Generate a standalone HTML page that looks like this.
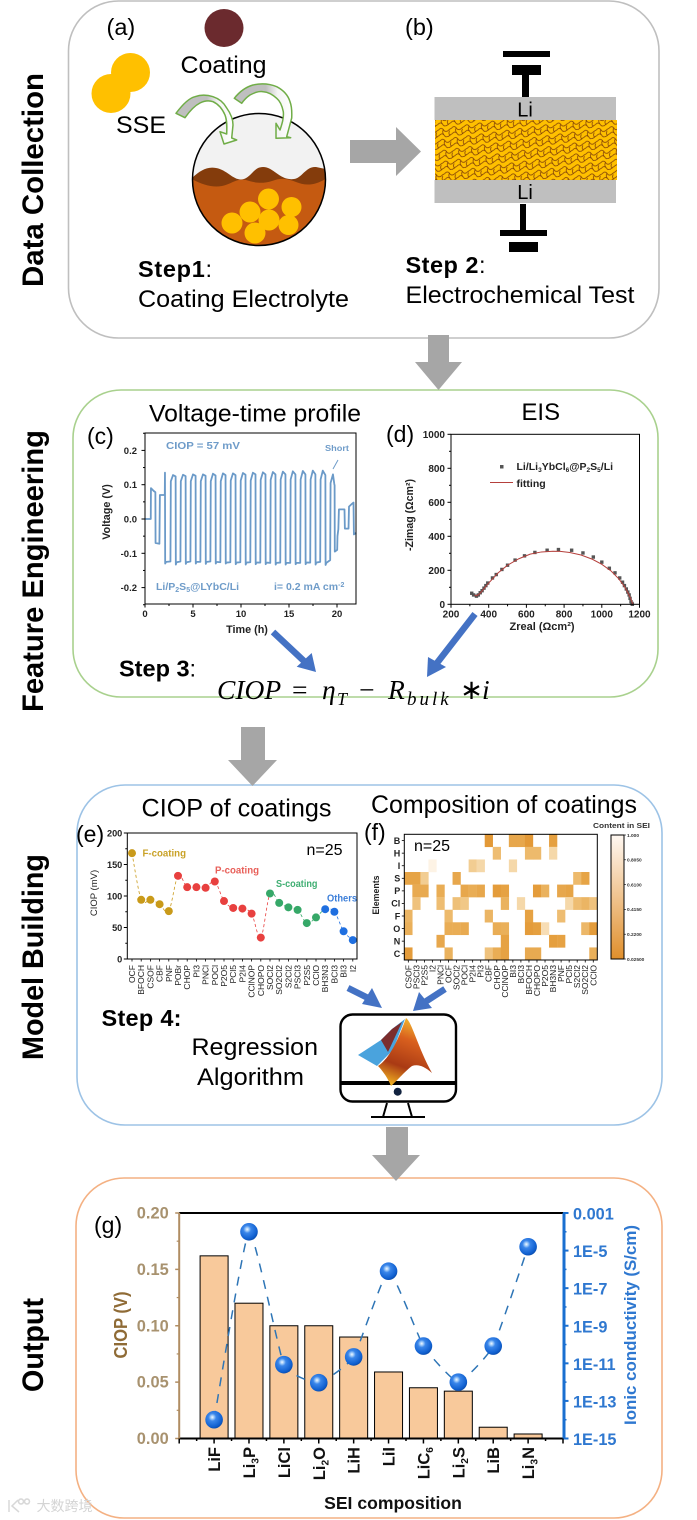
<!DOCTYPE html>
<html lang="en">
<head>
<meta charset="utf-8">
<title>SEI coating workflow</title>
<style>
html,body{margin:0;padding:0;background:#fff;}
svg{display:block;font-family:"Liberation Sans",Arial,"Noto Sans CJK SC",sans-serif;}
</style>
</head>
<body>
<svg id="figure" xmlns="http://www.w3.org/2000/svg" width="697" height="1520" viewBox="0 0 697 1520">
<defs>
<pattern id="scales" width="13" height="11" patternUnits="userSpaceOnUse" patternTransform="rotate(-8)">
<rect width="13" height="11" fill="#ffc000"/>
<path d="M0,3 q3,-3 5,0 q1,3 4,2 q3,-2 4,-2 M0,8.5 q3,-3 5,0 q1,3 4,2 q3,-2 4,-2 M5,3 q-2,3 0,5.5 M11,5 q-2,3 0,5" fill="none" stroke="#7b3a08" stroke-width="0.7"/>
</pattern>
<radialGradient id="sphere" cx="0.4" cy="0.36" r="0.68">
<stop offset="0" stop-color="#f2f8ff"/><stop offset="0.13" stop-color="#a8d0fa"/><stop offset="0.32" stop-color="#3a86ea"/><stop offset="0.8" stop-color="#1060d0"/><stop offset="1" stop-color="#0a4aa8"/>
</radialGradient>
<linearGradient id="colorbar-fill" x1="0" y1="0" x2="0" y2="1">
<stop offset="0" stop-color="#fff8f2"/><stop offset="1" stop-color="#e08f2c"/>
</linearGradient>
<linearGradient id="peak-fill" x1="0.6" y1="0" x2="0.3" y2="1">
<stop offset="0" stop-color="#f3b92f"/><stop offset="0.3" stop-color="#d9601e"/><stop offset="0.7" stop-color="#a93a14"/><stop offset="1" stop-color="#f0b020"/>
</linearGradient>
<linearGradient id="arrow-fill-left" gradientUnits="userSpaceOnUse" x1="176" y1="0" x2="232" y2="0">
<stop offset="0.55" stop-color="#bfbfbf"/><stop offset="0.75" stop-color="#f4f4f4"/><stop offset="1" stop-color="#ffffff"/>
</linearGradient>
<linearGradient id="arrow-fill-right" gradientUnits="userSpaceOnUse" x1="234" y1="0" x2="292" y2="0">
<stop offset="0.55" stop-color="#bfbfbf"/><stop offset="0.75" stop-color="#f4f4f4"/><stop offset="1" stop-color="#ffffff"/>
</linearGradient>
<clipPath id="ball-clip"><ellipse cx="259" cy="179.5" rx="66.5" ry="66"/></clipPath>
</defs>

<!-- section frames -->
<rect x="68.5" y="1" width="590.5" height="337" rx="50" fill="none" stroke="#bfbfbf" stroke-width="1.6"/>
<rect x="73" y="390" width="585" height="307" rx="48" fill="none" stroke="#a9d18e" stroke-width="1.6"/>
<rect x="77" y="785" width="585" height="340" rx="48" fill="none" stroke="#9dc3e6" stroke-width="1.6"/>
<rect x="76" y="1178" width="586" height="340" rx="48" fill="none" stroke="#f4b183" stroke-width="1.6"/>

<!-- section titles -->
<text transform="rotate(-90 43 180)" x="43" y="180" text-anchor="middle" font-weight="bold" font-size="29.500" textLength="214" lengthAdjust="spacingAndGlyphs">Data Collection</text>
<text transform="rotate(-90 43 571)" x="43" y="571" text-anchor="middle" font-weight="bold" font-size="29.500" textLength="282" lengthAdjust="spacingAndGlyphs">Feature Engineering</text>
<text transform="rotate(-90 43 957)" x="43" y="957" text-anchor="middle" font-weight="bold" font-size="29.500" textLength="206" lengthAdjust="spacingAndGlyphs">Model Building</text>
<text transform="rotate(-90 43 1345)" x="43" y="1345" text-anchor="middle" font-weight="bold" font-size="29.500" textLength="94" lengthAdjust="spacingAndGlyphs">Output</text>

<!-- grey flow arrows -->
<path d="M428,335H449V362H462L438.500,390L415,362H428Z" fill="#a6a6a6"/>
<path d="M241,727H265V760H277L252.500,786L228,760H241Z" fill="#a6a6a6"/>
<path d="M386,1127H408V1155H420L396,1181L372,1155H386Z" fill="#a6a6a6"/>
<path d="M350,140H396V127L421,151.500L396,176V163H350Z" fill="#a6a6a6"/>

<!-- panel a -->
<text x="106.500" y="35" font-size="23.500">(a)</text>
<ellipse cx="224" cy="28" rx="19.500" ry="19" fill="#6b2a2e"/>
<text x="180.500" y="73" font-size="24.500" textLength="86" lengthAdjust="spacingAndGlyphs">Coating</text>
<circle cx="130.500" cy="72.500" r="19.500" fill="#ffc000"/>
<circle cx="111" cy="93.500" r="19.500" fill="#ffc000"/>
<text x="116" y="133" font-size="24.500" textLength="50" lengthAdjust="spacingAndGlyphs">SSE</text>
<g>
<ellipse cx="259" cy="179.500" rx="66.500" ry="66" fill="#f2f2f2"/>
<g clip-path="url(#ball-clip)">
<path d="M190,180 C198,172 206,166 216,168 C228,170 234,182 244,179 C252,176 254,167 263,167 C274,167 280,181 294,179 C302,178 306,166 316,167 L330,170 V250 H190Z" fill="#843c0c"/>
<path d="M190,178 C200,184 212,188 222,186 C232,184 236,178 246,180 C256,183 262,184 272,181 C280,178 286,178 296,182 C306,186 316,186 330,176 V250 H190Z" fill="#c55a11"/>
<circle cx="232" cy="223" r="10.500" fill="#ffc000"/><circle cx="250" cy="212" r="10.500" fill="#ffc000"/><circle cx="268.500" cy="199" r="10.500" fill="#ffc000"/><circle cx="291.500" cy="207" r="10" fill="#ffc000"/><circle cx="269" cy="220" r="10.500" fill="#ffc000"/><circle cx="288.500" cy="225" r="10" fill="#ffc000"/><circle cx="255" cy="233" r="10.500" fill="#ffc000"/>
</g>
<ellipse cx="259" cy="179.500" rx="66.500" ry="66" fill="none" stroke="#000" stroke-width="1.500"/>
</g>
<path d="M176,113.300 C183,104 189,98 195,96.700 C202,94 208,95 213,96.700 C220,99 224,103 226.700,108 C231,114 233,120 233,125 L231.700,138 L236.700,140 L224,144 L220,131.700 L226.700,134 C227,126 227,120 225,115 C222,108 218,104 213,101.700 C208,100 204,101 200,103 C194,106 189,112 185,117.700Z" fill="url(#arrow-fill-left)" stroke="#70ad47" stroke-width="1.500" stroke-linejoin="round"/>
<path d="M234.300,98.300 C240,91 246,87 253,85 C262,83 270,84 276.700,86.700 C283,90 288,95 290,101.700 C292,107 292,112 291.700,118 L286.700,136.700 L290.700,137.700 L276,138.300 L276,123.300 L280,130 C282,124 284,118 283.300,111.700 C282,105 280,101 276.700,98.300 C272,94 268,92 263.300,91.700 C258,91 254,93 250,95 C247,97 244,100 241.700,103.300Z" fill="url(#arrow-fill-right)" stroke="#70ad47" stroke-width="1.500" stroke-linejoin="round"/>
<text x="138" y="277" font-size="23.500" textLength="74" lengthAdjust="spacing"><tspan font-weight="bold">Step1</tspan>:</text>
<text x="138" y="307" font-size="24.500" textLength="211" lengthAdjust="spacingAndGlyphs">Coating Electrolyte</text>

<!-- panel b -->
<text x="405" y="35" font-size="23.500">(b)</text>
<g fill="#000">
<rect x="503" y="51" width="47" height="6"/><rect x="512" y="65" width="29" height="10"/><rect x="522" y="75" width="7" height="22"/>
</g>
<rect x="434.500" y="97" width="181.500" height="23" fill="#bfbfbf"/>
<rect x="435" y="120" width="182" height="60" fill="url(#scales)"/>
<rect x="434.500" y="180" width="181.500" height="23" fill="#bfbfbf"/>
<text x="525" y="116.500" font-size="20" text-anchor="middle">Li</text>
<text x="525" y="199" font-size="20" text-anchor="middle">Li</text>
<g fill="#000">
<rect x="520" y="204" width="6" height="26"/><rect x="500" y="230" width="47" height="6"/><rect x="509" y="242" width="29" height="10"/>
</g>
<text x="405.500" y="273" font-size="23.500" textLength="80" lengthAdjust="spacing"><tspan font-weight="bold">Step 2</tspan>:</text>
<text x="405.500" y="303" font-size="24.500" textLength="229" lengthAdjust="spacingAndGlyphs">Electrochemical Test</text>

<!-- panel titles -->
<text x="149" y="421.500" font-size="24.500" textLength="212" lengthAdjust="spacingAndGlyphs">Voltage-time profile</text>
<text x="521.500" y="420" font-size="24" textLength="38.500" lengthAdjust="spacingAndGlyphs">EIS</text>
<text x="87" y="444" font-size="23">(c)</text>
<text x="386" y="442" font-size="23">(d)</text>
<text x="141.500" y="816.500" font-size="25" textLength="190" lengthAdjust="spacingAndGlyphs">CIOP of coatings</text>
<text x="371" y="813" font-size="25" textLength="266" lengthAdjust="spacingAndGlyphs">Composition of coatings</text>
<text x="76" y="842" font-size="23">(e)</text>
<text x="364" y="840" font-size="23">(f)</text>
<text x="94" y="1233" font-size="23">(g)</text>

<!-- chart groups -->
<g id="chart-voltage"></g>
<g id="chart-eis"></g>
<g id="chart-ciop"></g>
<g id="chart-heat"></g>
<g id="chart-sei"></g>

<!-- voltage annotations -->
<g font-weight="bold" fill="#6f9cc9">
<text x="166" y="449" font-size="10.500" textLength="74" lengthAdjust="spacingAndGlyphs">CIOP = 57 mV</text>
<text x="325" y="451" font-size="8.500" textLength="24" lengthAdjust="spacingAndGlyphs">Short</text>
<text x="156" y="590" font-size="10.500">Li/P<tspan font-size="7" dy="2">2</tspan><tspan dy="-2">S</tspan><tspan font-size="7" dy="2">5</tspan><tspan dy="-2">@LYbC/Li</tspan></text>
<text x="274" y="590" font-size="10.500">i= 0.2 mA cm<tspan font-size="7" dy="-3">-2</tspan></text>
</g>
<line x1="338" y1="460" x2="333" y2="469" stroke="#6f9cc9" stroke-width="1"/>

<!-- EIS legend -->
<rect x="500" y="465" width="3.500" height="3.500" fill="#555"/>
<text x="516.500" y="470" font-size="10.500" font-weight="bold" fill="#222">Li/Li<tspan font-size="6.500" dy="2">3</tspan><tspan dy="-2">YbCl</tspan><tspan font-size="6.500" dy="2">6</tspan><tspan dy="-2">@P</tspan><tspan font-size="6.500" dy="2">2</tspan><tspan dy="-2">S</tspan><tspan font-size="6.500" dy="2">5</tspan><tspan dy="-2">/Li</tspan></text>
<line x1="490" y1="482.500" x2="513" y2="482.500" stroke="#b5403c" stroke-width="1"/>
<text x="516.500" y="487" font-size="10.500" font-weight="bold" fill="#222">fitting</text>

<!-- ciop annotations -->
<g font-size="10.500" font-weight="bold">
<text x="142.500" y="856.500" fill="#c9a227" textLength="43.500" lengthAdjust="spacingAndGlyphs">F-coating</text>
<text x="215" y="873.500" fill="#e8605a" textLength="44" lengthAdjust="spacingAndGlyphs">P-coating</text>
<text x="276" y="887" fill="#3fae72" textLength="41.500" lengthAdjust="spacingAndGlyphs">S-coating</text>
<text x="327" y="901.500" fill="#3d7fd9" textLength="30" lengthAdjust="spacingAndGlyphs">Others</text>
</g>
<text x="306.500" y="855" font-size="16">n=25</text>
<text x="414" y="851" font-size="16">n=25</text>

<!-- step 3 -->
<text x="119" y="676.700" font-size="23.500"><tspan font-weight="bold">Step 3</tspan>:</text>
<text y="699" font-size="27.500" font-style="italic" style="font-family:'Liberation Serif',serif"><tspan x="217">CIOP</tspan><tspan x="292" font-style="normal">=</tspan><tspan x="322">η</tspan><tspan x="337" y="705" font-size="18">T</tspan><tspan x="359" y="699" font-style="normal">−</tspan><tspan x="388">R</tspan><tspan x="407" y="705" font-size="19" letter-spacing="3">bulk</tspan><tspan x="460" y="699" font-style="normal">∗</tspan><tspan x="482">i</tspan></text>

<!-- blue arrows -->
<g fill="none" stroke="#4472c4" stroke-width="6.500">
<line x1="273" y1="632" x2="305" y2="662"/>
<line x1="475" y1="614" x2="437" y2="663"/>
<line x1="348" y1="988" x2="372" y2="1000"/>
<line x1="445" y1="989" x2="425" y2="1002"/>
</g>
<path d="M316,672L296.700,666.700L311.700,653Z" fill="#4472c4"/>
<path d="M427,677L428,657L446,667Z" fill="#4472c4"/>
<path d="M382,1008L362,1004L372,988Z" fill="#4472c4"/>
<path d="M413,1011L419,992L432,1008Z" fill="#4472c4"/>

<!-- step 4 -->
<text x="101.500" y="1026" font-size="23.500" font-weight="bold" textLength="80" lengthAdjust="spacing">Step 4:</text>
<text x="191.500" y="1055" font-size="24" textLength="126.500" lengthAdjust="spacingAndGlyphs">Regression</text>
<text x="197" y="1085" font-size="24.500" textLength="107" lengthAdjust="spacingAndGlyphs">Algorithm</text>

<!-- monitor -->
<g>
<rect x="340.500" y="1014.500" width="115.500" height="87" rx="12" fill="#fff" stroke="#000" stroke-width="2.400"/>
<rect x="340" y="1081" width="116" height="4" fill="#000"/>
<circle cx="397.700" cy="1091.700" r="4" fill="#12233f"/>
<path d="M387,1103L383,1117M408,1103L412,1117" stroke="#000" stroke-width="2" fill="none"/>
<rect x="371" y="1116" width="54" height="2" fill="#000"/>
<path d="M358,1055L381,1040L392,1029L405,1019L393,1050L377,1066Z" fill="#4aa3dd"/>
<path d="M381,1040L392,1029L402,1022L388,1052Z" fill="#7b2d2d"/>
<path d="M406,1018C412,1022 418,1048 432,1073C424,1066 418,1064 412,1066C404,1072 396,1082 391,1086C388,1078 382,1070 378,1066C390,1058 398,1040 406,1018Z" fill="url(#peak-fill)"/>
</g>

<!-- watermark -->
<text x="36.500" y="1511" font-size="14" fill="#d4d4d4" style="font-family:'Liberation Sans','Noto Sans CJK SC',sans-serif">大数跨境</text>
<path d="M9,1500V1512M18,1500L12,1506L19,1512M21,1499a2.500,2.500 0 1,0 .01,0M27,1499a2.500,2.500 0 1,0 .01,0" fill="none" stroke="#d8d8d8" stroke-width="1.500"/>
</svg>

<script>
var svgNS = 'http://www.w3.org/2000/svg';

/* ---------- panel c data ---------- */
var voltageTimes = [0,0.6,0.62,0.9,1.08,1.1,1.5,1.55,1.95,2.06,2.08,2.1,2.2,2.65,
2.69,2.92,3.19,3.21,3.29,3.69, 3.73,3.96,4.23,4.25,4.33,4.73, 4.77,5.00,5.27,5.29,5.37,5.77,
5.81,6.04,6.31,6.33,6.41,6.81, 6.85,7.08,7.35,7.37,7.45,7.85, 7.89,8.12,8.39,8.41,8.49,8.89,
8.93,9.16,9.43,9.45,9.53,9.93, 9.97,10.20,10.47,10.49,10.57,10.97, 11.01,11.24,11.51,11.53,11.61,12.01,
12.05,12.28,12.55,12.57,12.65,13.05, 13.09,13.32,13.59,13.61,13.69,14.09, 14.13,14.36,14.63,14.65,14.73,15.13,
15.17,15.40,15.67,15.69,15.77,16.17, 16.21,16.44,16.71,16.73,16.81,17.21, 17.25,17.48,17.75,17.77,17.85,18.25,
18.29,18.52,18.79,18.81,18.89,19.29, 19.33,19.58,19.72,19.75,19.77,20.02,20.05,20.14,20.20,20.78,20.82,21.2,21.25,21.55,21.72,21.76,22];
var voltageValues = [0,0,0.09,0.082,0.078,-0.07,-0.072,0.07,0.07,0.07,0.135,-0.13,-0.125,-0.124,
0.11,0.128,0.124,-0.133,-0.126,-0.124, 0.11,0.129,0.125,-0.131,-0.126,-0.124, 0.11,0.13,0.126,-0.13,-0.125,-0.125,
0.11,0.13,0.126,-0.131,-0.125,-0.124, 0.11,0.132,0.127,-0.13,-0.125,-0.126, 0.11,0.133,0.128,-0.13,-0.127,-0.126,
0.112,0.133,0.128,-0.132,-0.127,-0.126, 0.112,0.134,0.129,-0.133,-0.127,-0.126, 0.112,0.135,0.13,-0.132,-0.127,-0.127,
0.114,0.136,0.13,-0.132,-0.127,-0.128, 0.114,0.137,0.13,-0.133,-0.128,-0.127, 0.115,0.138,0.13,-0.133,-0.128,-0.128,
0.115,0.139,0.13,-0.132,-0.128,-0.128, 0.115,0.14,0.13,-0.132,-0.127,-0.127, 0.115,0.141,0.13,-0.133,-0.127,-0.125,
0.115,0.141,0.128,-0.134,-0.128,-0.12, 0.105,0.13,0.102,0.098,-0.095,-0.09,-0.05,-0.03,0.028,0.028,-0.028,-0.028,0.036,0.044,0.048,-0.045,-0.04];
var voltageYTicks = [-0.2,-0.1,0,0.1,0.2];
var voltageYMinor = [-0.25,-0.15,-0.05,0.05,0.15,0.25];
var voltageYLabels = ['-0.2','-0.1','0.0','0.1','0.2'];
var voltageXTicks = [0,5,10,15,20];
var voltageXMinor = [2.5,7.5,12.5,17.5];

/* ---------- panel d data ---------- */
var eisReal = [310,320,335,345,355,365,375,385,395,420,440,470,500,540,590,645,710,770,840,900,955,1000,1040,1070,1095,1110,1120,1130,1138,1145,1150,1155,1160,1162];
var eisImag = [65,55,48,55,68,80,95,110,125,155,175,205,230,260,285,305,318,322,318,302,278,248,212,185,155,130,110,90,72,55,35,15,5,0];
var fitReal = [325,335,350,370,400,450,500,560,620,680,740,780,830,890,950,1000,1050,1090,1120,1140,1155,1165];
var fitImag = [55,50,60,85,125,185,230,268,295,308,312,311,305,290,265,235,195,150,105,65,30,0];
var eisYTicks = [0,200,400,600,800,1000];
var eisYMinor = [100,300,500,700,900];
var eisXTicks = [200,400,600,800,1000,1200];
var eisXMinor = [300,500,700,900,1100];

/* ---------- panel e data ---------- */
var coatingNames = ['OCF','BFOCH','CSOF','CBF','PNF','POBr','CHOP','PI3','PNCl','POCl','P2O5','PCl5','P2I4','CClNOP','CHOPO','SOCl2','SO2Cl2','S2Cl2','PSCl3','P2S5','CClO','BH3N3','BCl3','BI3','I2'];
var coatingCiop = [168,94,94,87,76,132,114,114,113,123,92,81,80,72,34,104,89,82,78,57,66,79,75,44,30];
var coatingGroups = ['F','F','F','F','F','P','P','P','P','P','P','P','P','P','P','S','S','S','S','S','S','O','O','O','O'];
var ciopYTicks = [0,50,100,150,200];
var ciopYMinor = [25,75,125,175];

/* ---------- panel f data ---------- */
var heatColumns = ['CSOF','PSCl3','P2S5','I2','PNCl','OCF','SOCl2','POCl','P2I4','PI3','CBF','CHOP','CClNOP','BI3','BCl3','BFOCH','CHOPO','P2O5','BH3N3','PNF','PCl5','S2Cl2','SO2Cl2','CClO'];
var heatRows = ['B','H','I','S','P','Cl','F','O','N','C'];
var rowB  = [0,0,0,0,0,0,0,0,0,0,.12,0,0,.25,.25,.12,0,0,.18,0,0,0,0,0];
var rowH  = [0,0,0,0,0,0,0,0,0,0,0,.45,0,0,0,.42,.42,0,.7,0,0,0,0,0];
var rowI  = [0,0,0,.95,0,0,0,0,.6,.7,0,0,0,.7,0,0,0,0,0,0,0,0,0,0];
var rowS  = [.22,.22,.6,0,0,0,.25,0,0,0,0,0,0,0,0,0,0,0,0,0,0,.42,.22,0];
var rowP  = [0,.28,.28,0,.3,0,0,.25,.3,.25,0,.15,.2,0,0,0,.15,.35,0,.25,.22,0,0,0];
var rowCl = [0,.5,0,0,.45,0,.48,.55,0,0,0,0,.35,0,.7,0,0,0,0,0,.7,.45,.38,.5];
var rowF  = [.38,0,0,0,0,.42,0,0,0,0,.38,0,0,0,0,.2,0,0,0,.45,0,0,0,0];
var rowO  = [.33,0,0,0,0,.3,.3,.28,0,0,0,.3,.33,0,0,.15,.18,.75,0,0,0,0,.4,.15];
var rowN  = [0,0,0,0,.25,0,0,0,0,0,0,0,.2,0,0,0,0,0,.17,.2,0,0,0,0];
var rowC  = [.15,0,0,0,0,.35,0,0,0,0,.5,.3,.2,0,0,.28,.28,0,0,0,0,0,0,.33];
var heatValues = [rowB,rowH,rowI,rowS,rowP,rowCl,rowF,rowO,rowN,rowC];
var colorbarTicks = [1,0.805,0.61,0.415,0.22,0.025];
var colorbarLabels = ['1.000','0.8050','0.6100','0.4150','0.2200','0.02500'];

/* ---------- panel g data ---------- */
var seiNames = ['LiF','Li3P','LiCl','Li2O','LiH','LiI','LiC6','Li2S','LiB','Li3N'];
var seiCiop = [0.162,0.120,0.100,0.100,0.090,0.059,0.045,0.042,0.010,0.004];
var seiConductivity = [1e-14,1e-4,8.5e-12,9.3e-13,2.2e-11,8e-7,8.3e-11,1e-12,8.3e-11,1.6e-5];
var seiLeftTicks = [0,0.05,0.10,0.15,0.20];
var seiLeftMinor = [0.025,0.075,0.125,0.175];
var seiRightTicks = [1e-3,1e-5,1e-7,1e-9,1e-11,1e-13,1e-15];
var seiRightMinor = [1e-4,1e-6,1e-8,1e-10,1e-12,1e-14];
var seiRightLabels = ['0.001','1E-5','1E-7','1E-9','1E-11','1E-13','1E-15'];

/* ---------- helpers ---------- */
function make(tag, attrs, parent) {
  var node = document.createElementNS(svgNS, tag);
  for (var key in attrs) { node.setAttribute(key, attrs[key]); }
  parent.appendChild(node);
  return node;
}
function addTick(parent, x1, y1, x2, y2, color, width) {
  var t = make('line', {x1:x1, y1:y1, x2:x2, y2:y2, stroke:color, 'stroke-width':width}, parent);
  
  
  return t;
}
function addLabel(parent, x, y, str, size, anchor, bold, color) {
  var t = make('text', {x:x, y:y, 'font-size':size, 'text-anchor':anchor, 'font-weight':bold ? 'bold' : 'normal', fill:color}, parent);
  t.textContent = str;
  
  
  return t;
}
function addTitle(parent, cx, cy, str, size, bold, color, len) {
  var t = make('text', {x:cx, y:cy, transform:'rotate(-90 ' + cx + ' ' + cy + ')', 'font-size':size, 'text-anchor':'middle', 'font-weight':bold ? 'bold' : 'normal', fill:color}, parent);
  if (len) { t.setAttribute('textLength', len); t.setAttribute('lengthAdjust', 'spacingAndGlyphs'); }
  t.textContent = str;
  
  
  return t;
}
function addFrame(parent, x0, y0, x1, y1) {
  var r = make('rect', {x:x0, y:y0, width:x1 - x0, height:y1 - y0, fill:'none', stroke:'#000', 'stroke-width':1}, parent);
  
  
  return r;
}
function points(xs, ys, fx, fy) {
  return xs.map(function (v, i) { return fx(v).toFixed(2) + ',' + fy(ys[i]).toFixed(2); }).join(' ');
}
function splineSegment(p, i, k) {
  var a = p[Math.max(i - 1, 0)], b = p[i], c = p[i + 1], d = p[Math.min(i + 2, p.length - 1)];
  return 'M' + b[0] + ',' + b[1] + 'C' + (b[0] + (c[0] - a[0]) * k) + ',' + (b[1] + (c[1] - a[1]) * k) + ' ' +
    (c[0] - (d[0] - b[0]) * k) + ',' + (c[1] - (d[1] - b[1]) * k) + ' ' + c[0] + ',' + c[1];
}
function addFormula(node, str, size) {
  var parts = str.match(/[A-Za-z]+|[0-9]+/g), shifted = false;
  parts.forEach(function (part) {
    var span = document.createElementNS(svgNS, 'tspan');
    var isNum = /^[0-9]/.test(part);
    if (isNum) { span.setAttribute('font-size', size * 0.62); span.setAttribute('dy', size * 0.22); shifted = true; }
    else if (shifted) { span.setAttribute('dy', -size * 0.22); shifted = false; }
    span.textContent = part;
    node.appendChild(span);
  });
}

/* ---------- panel c ---------- */
(function () {
  var g = document.getElementById('chart-voltage');
  var x0 = 145, x1 = 356, y0 = 433, y1 = 604;
  var fx = function (t) { return x0 + t * 9.6; };
  var fy = function (v) { return 519 - v * 343; };
  var line = make('polyline', {points:points(voltageTimes, voltageValues, fx, fy), fill:'none', stroke:'#6b9ac8', 'stroke-width':1.8, 'stroke-linejoin':'round'}, g);
  
  
  addFrame(g, x0, y0, x1, y1);
  voltageYTicks.forEach(function (v, i) {
    addTick(g, x0 - 3.5, fy(v), x0, fy(v), '#000', 1);
    addLabel(g, x0 - 8, fy(v) + 3.5, voltageYLabels[i], 9.5, 'end', true, '#222');
  });
  voltageYMinor.forEach(function (v) { addTick(g, x0 - 2, fy(v), x0, fy(v), '#000', 1); });
  voltageXTicks.forEach(function (v) {
    addTick(g, fx(v), y1, fx(v), y1 + 3.5, '#000', 1);
    addLabel(g, fx(v), 617, String(v), 9.5, 'middle', true, '#222');
  });
  voltageXMinor.forEach(function (v) { addTick(g, fx(v), y1, fx(v), y1 + 2, '#000', 1); });
  addTitle(g, 110, 512, 'Voltage (V)', 10.8, true, '#222');
  addLabel(g, 247, 633, 'Time (h)', 10.8, 'middle', true, '#222');
})();

/* ---------- panel d ---------- */
(function () {
  var g = document.getElementById('chart-eis');
  var x0 = 451, x1 = 639.5, y0 = 434.3, y1 = 604.3;
  var fx = function (v) { return x0 + (v - 200) * 0.1885; };
  var fy = function (v) { return y1 - v * 0.17; };
  eisReal.forEach(function (v, i) {
    var s = make('rect', {x:fx(v) - 1.7, y:fy(eisImag[i]) - 1.7, width:3.4, height:3.4, fill:'#555'}, g);
    
    
  });
  var fit = make('polyline', {points:points(fitReal, fitImag, fx, fy), fill:'none', stroke:'#b5403c', 'stroke-width':1}, g);
  
  
  addFrame(g, x0, y0, x1, y1);
  eisYTicks.forEach(function (v) {
    addTick(g, x0 - 3.5, fy(v), x0, fy(v), '#000', 1);
    addLabel(g, x0 - 6, fy(v) + 3.5, String(v), 10, 'end', true, '#222');
  });
  eisYMinor.forEach(function (v) { addTick(g, x0 - 2, fy(v), x0, fy(v), '#000', 1); });
  eisXTicks.forEach(function (v) {
    addTick(g, fx(v), y1, fx(v), y1 + 3.5, '#000', 1);
    addLabel(g, fx(v), 617.5, String(v), 10, 'middle', true, '#222');
  });
  eisXMinor.forEach(function (v) { addTick(g, fx(v), y1, fx(v), y1 + 2, '#000', 1); });
  addTitle(g, 413, 515, '-Zimag (Ωcm²)', 10.6, true, '#222');
  addLabel(g, 542, 630, 'Zreal (Ωcm²)', 11, 'middle', true, '#222');
})();

/* ---------- panel e ---------- */
(function () {
  var g = document.getElementById('chart-ciop');
  var x0 = 127.3, x1 = 357, y0 = 833, y1 = 959;
  var groupColor = {F:'#c99a1a', P:'#e8403f', S:'#36a868', O:'#1f6fe0'};
  var fx = function (i) { return 132 + i * 9.2; };
  var fy = function (v) { return y1 - v * 0.63; };
  var pts = coatingCiop.map(function (v, i) { return [fx(i), fy(v)]; });
  for (var s = 0; s < pts.length - 1; s++) {
    var seg = make('path', {d:splineSegment(pts, s, 0.16), fill:'none', stroke:groupColor[coatingGroups[s]], 'stroke-width':0.8, 'stroke-dasharray':'3 2.5'}, g);
    
    
  }
  coatingCiop.forEach(function (v, i) {
    var c = make('circle', {cx:fx(i), cy:fy(v), r:4, fill:groupColor[coatingGroups[i]]}, g);
    
    
    addTick(g, fx(i), y1, fx(i), y1 + 2.5, '#000', 0.8);
    var lx = fx(i) + 3;
    var t = make('text', {x:lx, y:965, transform:'rotate(-90 ' + lx + ' 965)', 'font-size':8.5, 'text-anchor':'end', fill:'#222'}, g);
    t.textContent = coatingNames[i];
    
    
  });
  addFrame(g, x0, y0, x1, y1);
  ciopYTicks.forEach(function (v) {
    addTick(g, x0 - 3.5, fy(v), x0, fy(v), '#000', 1);
    addLabel(g, x0 - 5, fy(v) + 3.3, String(v), 9.2, 'end', true, '#222');
  });
  ciopYMinor.forEach(function (v) { addTick(g, x0 - 2, fy(v), x0, fy(v), '#000', 1); });
  addTitle(g, 97, 893, 'CIOP (mV)', 9.5, false, '#222');
})();

/* ---------- panel f ---------- */
(function () {
  var g = document.getElementById('chart-heat');
  var x0 = 404.3, x1 = 597.3, y0 = 834.3, y1 = 960;
  var cw = (x1 - x0) / heatColumns.length, ch = (y1 - y0) / heatRows.length;
  var colorOf = function (v) {
    var t = (v - 0.025) / 0.975;
    return 'rgb(' + Math.round(224 + 31 * t) + ',' + Math.round(143 + 105 * t) + ',' + Math.round(44 + 198 * Math.pow(t, 1.25)) + ')';
  };
  heatValues.forEach(function (row, r) {
    row.forEach(function (v, c) {
      if (!v) { return; }
      var cell = make('rect', {x:x0 + c * cw, y:y0 + r * ch, width:cw + 0.2, height:ch + 0.2, fill:colorOf(v)}, g);
      
      
    });
  });
  addFrame(g, x0, y0, x1, y1);
  heatRows.forEach(function (name, r) {
    var cy = y0 + (r + 0.5) * ch;
    addTick(g, x0 - 2.5, cy, x0, cy, '#000', 0.8);
    addLabel(g, x0 - 4, cy + 3.3, name, 9, 'end', true, '#222');
  });
  heatColumns.forEach(function (name, c) {
    var cx = x0 + (c + 0.5) * cw;
    addTick(g, cx, y1, cx, y1 + 2.5, '#000', 0.8);
    var lx = cx + 3;
    var t = make('text', {x:lx, y:965, transform:'rotate(-90 ' + lx + ' 965)', 'font-size':8.5, 'text-anchor':'end', fill:'#222'}, g);
    t.textContent = name;
    
    
  });
  addTitle(g, 379, 895, 'Elements', 8.8, true, '#222');
  var bx = 611, bw = 13, by = function (v) { return 835 + (1 - v) * 124 / 0.975; };
  var bar = make('rect', {x:bx, y:835, width:bw, height:124, fill:'url(#colorbar-fill)', stroke:'#000', 'stroke-width':1}, g);
  
  
  colorbarTicks.forEach(function (v, i) {
    addTick(g, bx + bw, by(v), bx + bw + 2, by(v), '#000', 0.6);
    addLabel(g, bx + bw + 3, by(v) + 1.8, colorbarLabels[i], 4.8, 'start', true, '#333');
  });
  var ct = make('text', {x:593, y:828, 'font-size':7, 'font-weight':'bold', fill:'#333', textLength:57, lengthAdjust:'spacingAndGlyphs'}, g);
  ct.textContent = 'Content in SEI';
  
  
})();

/* ---------- panel g ---------- */
(function () {
  var g = document.getElementById('chart-sei');
  var x0 = 179.2, x1 = 563, y0 = 1213, y1 = 1438.5;
  var fx = function (i) { return x0 + (i + 1) * (x1 - x0) / 11; };
  var fy = function (v) { return y1 - v / 0.2 * (y1 - y0); };
  var fl = function (v) { return y1 - (Math.log10(v) + 15) / 12 * (y1 - y0); };
  seiCiop.forEach(function (v, i) {
    var b = make('rect', {x:fx(i) - 14, y:fy(v), width:28, height:y1 - fy(v), fill:'#f8c99b', stroke:'#000', 'stroke-width':1}, g);
    
    
  });
  var pts = seiConductivity.map(function (v, i) { return [fx(i), fl(v)]; });
  var d = '';
  for (var s = 0; s < pts.length - 1; s++) { d += splineSegment(pts, s, 0.07); }
  var trend = make('path', {d:d, fill:'none', stroke:'#2e75b6', 'stroke-width':1.5, 'stroke-dasharray':'9 8'}, g);
  
  
  seiConductivity.forEach(function (v, i) {
    var c = make('circle', {cx:fx(i), cy:fl(v), r:8.8, fill:'url(#sphere)'}, g);
    
    
  });
  var frameLines = [[x0, y0, x1, y0, '#000', 2], [x0, y1, x1, y1, '#000', 2], [x0, y0, x0, y1, '#b08d63', 2], [x1 + 1, y0, x1 + 1, y1, '#1a6fd0', 3]];
  frameLines.forEach(function (f) {
    var l = make('line', {x1:f[0], y1:f[1], x2:f[2], y2:f[3], stroke:f[4], 'stroke-width':f[5]}, g);
    
    
  });
  seiLeftTicks.forEach(function (v) {
    addTick(g, x0 - 4, fy(v), x0, fy(v), '#b08d63', 1.5);
    addLabel(g, x0 - 10.5, fy(v) + 5.5, v.toFixed(2), 16.4, 'end', true, '#a8926f');
  });
  seiLeftMinor.forEach(function (v) { addTick(g, x0 - 2.5, fy(v), x0, fy(v), '#b08d63', 1.2); });
  seiRightTicks.forEach(function (v, i) {
    addTick(g, x1, fl(v), x1 + 5.5, fl(v), '#1a6fd0', 2);
    addLabel(g, x1 + 10, fl(v) + 6.5, seiRightLabels[i], 16.3, 'start', true, '#2f78d0');
  });
  seiRightMinor.forEach(function (v) { addTick(g, x1, fl(v), x1 + 3.5, fl(v), '#1a6fd0', 1.5); });
  for (var k = 0; k <= 22; k++) {
    var tx = x0 + k * (x1 - x0) / 22;
    addTick(g, tx, y1, tx, y1 + (k % 2 ? 2.5 : 5), '#000', 1.5);
  }
  seiNames.forEach(function (name, i) {
    var lx = fx(i) + 6;
    var t = make('text', {x:lx, y:1447, transform:'rotate(-90 ' + lx + ' 1447)', 'font-size':16.5, 'text-anchor':'end', 'font-weight':'bold', fill:'#111'}, g);
    addFormula(t, name, 16.5);
    
    
  });
  addTitle(g, 127, 1325, 'CIOP (V)', 18, true, '#8f6b36', 67);
  addTitle(g, 636, 1325, 'Ionic conductivity (S/cm)', 16.5, true, '#2f78d0', 200);
  var xt = addLabel(g, 393, 1509, 'SEI composition', 17.6, 'middle', true, '#111');
  
})();
</script>
</body>
</html>
